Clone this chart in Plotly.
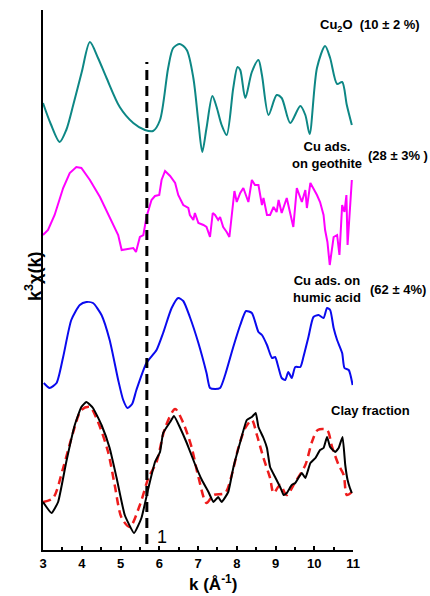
import plotly.graph_objects as go

# ---------------- data (k in 1/Angstrom, stacked k^3 chi(k) in arbitrary units) -------------
k_cu2o = [3.0, 3.2, 3.43, 3.6, 3.78, 4.0, 4.21, 4.42, 4.64, 4.98, 5.33, 5.63, 5.84, 6.02, 6.23, 6.36, 6.53,
          6.71, 6.88, 7.01, 7.11, 7.22, 7.37, 7.48, 7.61, 7.74, 7.91, 8.02, 8.09, 8.22, 8.39, 8.56, 8.65,
          8.82, 9.03, 9.16, 9.38, 9.64, 9.77, 9.88, 10.07, 10.28, 10.41, 10.59, 10.72, 10.84, 10.97]
y_cu2o = [44.7, 42.6, 40.8, 42.0, 44.5, 47.8, 50.8, 49.2, 47.2, 44.3, 42.7, 42.0, 41.9, 43.0, 48.2, 50.2, 50.6,
          50.0, 47.2, 42.8, 39.8, 42.2, 45.4, 44.3, 42.5, 41.5, 46.2, 48.3, 48.0, 45.2, 47.8, 49.0, 47.5,
          43.5, 45.5, 45.2, 42.7, 44.4, 43.5, 41.6, 48.2, 50.4, 49.2, 46.6, 46.8, 44.5, 42.5]

k_geo = [3.0, 3.13, 3.30, 3.52, 3.69, 3.86, 3.99, 4.21, 4.47, 4.72, 4.94, 5.03, 5.20, 5.33, 5.40, 5.50, 5.59,
         5.67, 5.80, 5.89, 6.00, 6.06, 6.15, 6.28, 6.41, 6.49, 6.62, 6.75, 6.79, 6.88, 6.92, 7.01, 7.14, 7.22,
         7.31, 7.38, 7.44, 7.52, 7.57, 7.65, 7.74, 7.81, 7.94, 8.00, 8.09, 8.17, 8.30, 8.39, 8.47, 8.56, 8.65,
         8.69, 8.78, 8.86, 8.95, 9.03, 9.08, 9.16, 9.29, 9.38, 9.46, 9.55, 9.68, 9.77, 9.81, 9.90, 9.98, 10.07,
         10.15, 10.24, 10.28, 10.34, 10.40, 10.50, 10.59, 10.65, 10.72, 10.78, 10.83, 10.86, 10.97]
y_geo = [31.5, 32.0, 33.5, 36.2, 37.7, 38.3, 38.2, 37.0, 35.3, 33.2, 31.5, 30.0, 30.1, 30.2, 29.8, 31.3, 31.5,
         33.3, 35.0, 35.4, 35.5, 37.0, 37.9, 37.4, 36.7, 35.5, 34.5, 34.2, 33.5, 33.0, 33.7, 32.7, 32.5, 32.3,
         31.3, 33.7, 33.5, 33.0, 33.3, 32.3, 31.8, 31.3, 35.9, 34.8, 35.7, 36.2, 34.8, 37.0, 36.5, 36.5, 34.5,
         35.2, 33.5, 33.5, 34.3, 33.8, 35.0, 33.7, 35.2, 33.8, 32.3, 36.2, 34.8, 36.0, 34.2, 36.7, 36.2, 35.5,
         34.8, 33.5, 32.0, 30.8, 28.5, 31.3, 31.5, 29.5, 34.5, 33.8, 35.5, 30.5, 37.0]

k_humic = [3.02, 3.17, 3.35, 3.52, 3.73, 3.95, 4.12, 4.29, 4.51, 4.72, 4.94, 5.07, 5.18, 5.30, 5.41, 5.67,
           5.93, 6.10, 6.32, 6.49, 6.62, 6.79, 7.01, 7.22, 7.31, 7.44, 7.57, 7.70, 7.91, 8.09, 8.24, 8.39,
           8.56, 8.65, 8.78, 8.91, 8.99, 9.08, 9.16, 9.25, 9.33, 9.42, 9.51, 9.64, 9.72, 9.85, 9.98, 10.11,
           10.24, 10.33, 10.41, 10.50, 10.59, 10.72, 10.78, 10.89, 10.99]
y_humic = [16.7, 16.2, 16.7, 19.3, 23.0, 24.5, 24.8, 24.7, 23.5, 21.0, 17.0, 15.0, 14.2, 14.6, 16.0, 18.7,
           20.0, 21.7, 24.2, 25.2, 24.9, 23.3, 20.7, 17.7, 16.2, 16.1, 16.2, 17.5, 20.3, 22.5, 23.9, 23.7,
           21.8, 21.5, 20.5, 19.2, 19.3, 18.2, 17.2, 17.0, 17.8, 17.2, 18.3, 18.3, 19.3, 21.3, 23.3, 23.5,
           23.2, 24.2, 24.0, 22.2, 21.0, 19.7, 18.2, 18.0, 16.5]

k_clay = [3.0, 3.22, 3.39, 3.60, 3.82, 3.99, 4.12, 4.29, 4.51, 4.72, 4.90, 5.11, 5.35, 5.54, 5.72, 5.89,
          6.02, 6.10, 6.28, 6.38, 6.54, 6.71, 6.92, 7.10, 7.27, 7.40, 7.52, 7.61, 7.78, 7.91, 8.09, 8.26,
          8.39, 8.49, 8.56, 8.69, 8.78, 8.86, 8.99, 9.12, 9.21, 9.29, 9.42, 9.51, 9.59, 9.68, 9.77, 9.90,
          10.03, 10.15, 10.24, 10.33, 10.41, 10.54, 10.63, 10.73, 10.80, 10.86, 10.92, 10.97]
y_clay = [4.8, 3.7, 4.8, 8.8, 12.5, 14.3, 14.8, 14.2, 12.5, 10.2, 7.2, 3.5, 1.7, 3.2, 6.2, 8.8,
          9.8, 11.7, 12.8, 13.4, 12.2, 10.7, 8.6, 7.0, 5.8, 4.8, 5.3, 4.8, 5.8, 8.2, 10.8, 13.0,
          13.3, 13.7, 12.3, 11.2, 10.2, 8.3, 7.3, 6.3, 5.5, 5.7, 6.5, 6.7, 7.2, 7.7, 7.2, 8.7,
          9.2, 10.0, 10.2, 11.3, 10.3, 9.8, 10.2, 11.3, 8.5, 7.0, 6.2, 5.7]

k_fit = [3.0, 3.26, 3.52, 3.78, 3.99, 4.21, 4.42, 4.68, 4.85, 5.03, 5.24, 5.50, 5.72, 5.93, 6.15, 6.41,
         6.62, 6.84, 7.01, 7.22, 7.40, 7.70, 7.87, 8.04, 8.22, 8.39, 8.52, 8.69, 8.86, 8.95, 9.12, 9.29,
         9.51, 9.77, 9.94, 10.09, 10.33, 10.46, 10.63, 10.76, 10.84, 10.97]
y_fit = [4.8, 5.2, 8.2, 11.8, 14.0, 14.3, 12.8, 9.8, 6.5, 3.2, 2.3, 4.5, 7.2, 8.8, 12.2, 14.1,
         12.7, 10.2, 7.3, 4.7, 5.5, 5.7, 7.5, 10.2, 12.2, 13.0, 11.5, 9.2, 7.2, 5.7, 6.5, 5.5,
         6.8, 8.5, 10.8, 12.0, 12.0, 10.3, 8.5, 7.5, 5.5, 5.8]

k_marker = [5.68, 5.68]
y_marker = [0.6, 48.8]

x_ticks = [3, 4, 5, 6, 7, 8, 9, 10, 11]

FONT = "Arial, Liberation Sans, sans-serif"

fig = go.Figure()
fig.add_trace(go.Scatter(x=k_cu2o, y=y_cu2o, mode="lines", line=dict(color="#0d8785", width=2, shape="spline", smoothing=0.8)))
fig.add_trace(go.Scatter(x=k_geo, y=y_geo, mode="lines", line=dict(color="#ff00ff", width=2)))
fig.add_trace(go.Scatter(x=k_humic, y=y_humic, mode="lines", line=dict(color="#0a0aee", width=2, shape="spline", smoothing=0.6)))
fig.add_trace(go.Scatter(x=k_fit, y=y_fit, mode="lines", line=dict(color="#ee1c1c", width=2.5, dash="8px,5px", shape="spline", smoothing=0.8)))
fig.add_trace(go.Scatter(x=k_clay, y=y_clay, mode="lines", line=dict(color="#000000", width=2, shape="spline", smoothing=0.4)))
fig.add_trace(go.Scatter(x=k_marker, y=y_marker, mode="lines", line=dict(color="#000000", width=3, dash="10px,6px")))

bold = dict(family=FONT, size=13, color="#000000")
ann = [
    dict(x=1.054, y=0.972, text="<b>Cu<sub>2</sub>O  (10 ± 2 %)</b>"),
    dict(x=0.917, y=0.732, text="<b>Cu ads.<br>on geothite</b>"),
    dict(x=1.145, y=0.730, text="<b>(28 ± 3% )</b>"),
    dict(x=0.915, y=0.483, text="<b>Cu ads. on<br>humic acid</b>"),
    dict(x=1.145, y=0.483, text="<b>(62 ± 4%)</b>"),
    dict(x=1.058, y=0.259, text="<b>Clay fraction</b>"),
]
for a in ann:
    fig.add_annotation(xref="paper", yref="paper", showarrow=False, font=bold,
                       xanchor="center", yanchor="middle", **a)
fig.add_annotation(xref="paper", yref="paper", x=0.384, y=0.024, text="1", showarrow=False,
                   xanchor="center", yanchor="middle",
                   font=dict(family=FONT, size=18, color="#000000"))
fig.add_annotation(xref="paper", yref="paper", x=-0.030, y=0.507, text="<b>k<sup>3</sup>χ(k)</b>",
                   textangle=-90, showarrow=False, xanchor="center", yanchor="middle",
                   font=dict(family=FONT, size=18, color="#000000"))
fig.add_annotation(xref="paper", yref="paper", x=0.547, y=-0.061, text="<b>k (Å<sup>-1</sup>)</b>",
                   showarrow=False, xanchor="center", yanchor="middle",
                   font=dict(family=FONT, size=17, color="#000000"))

fig.update_layout(
    template="none",
    font=dict(family=FONT, color="#000000"),
    width=430, height=596,
    margin=dict(l=43, r=77, t=10, b=46),
    paper_bgcolor="white", plot_bgcolor="white",
    showlegend=False,
    xaxis=dict(range=[3, 11], tickvals=x_ticks, ticks="inside", ticklen=4, tickwidth=1.5, tickcolor="black",
               showline=True, linecolor="black", linewidth=2, showgrid=False, zeroline=False,
               tickfont=dict(family=FONT, size=13, color="black", weight="bold"),
               minor=dict(dtick=0.5, ticks="inside", ticklen=3, tickcolor="black", tickwidth=1.5)),
    yaxis=dict(range=[0, 54], showline=True, linecolor="black", linewidth=2, showgrid=False, zeroline=False,
               showticklabels=False, ticks=""),
)
# remove the default 8px page margin so the 430x596 figure fills the window exactly
fig.write_html("out.html", config={"displayModeBar": False},
               post_script="document.body.style.margin='0';document.body.style.overflow='hidden';")
